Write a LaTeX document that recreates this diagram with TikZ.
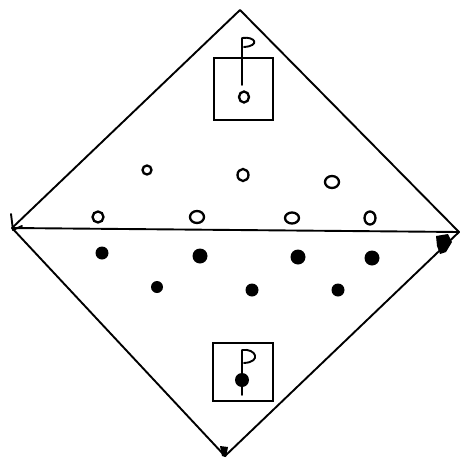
\documentclass[tikz,border=0pt]{standalone}
\begin{document}
\begin{tikzpicture}[x=1pt,y=-1pt,
  edge/.style={line width=1.9pt,line cap=round,line join=round},
  box/.style={draw,line width=2.1pt},
  hole/.style={draw,line width=2.3pt,fill=white},
  dot/.style={fill=black}]
\useasboundingbox (0,0) rectangle (467,461);
% vertices
\coordinate (T) at (240,10);
\coordinate (L) at (12,228);
\coordinate (R) at (459,232);
\coordinate (B) at (225,456);
\draw[edge] (L) -- (T) -- (R) -- (B) -- cycle;
\draw[edge] (L) -- (R);
% vertex marks
\draw[edge] (11,214) -- (13,230) -- (22,226);
\fill (436,236) -- (448,234) -- (452,242) -- (446,252) -- (440,254) -- (437,246) -- cycle;
\fill (220,446) -- (228,447) -- (226,457) -- (222,456) -- cycle;
% top box with flag and open ball
\draw[box] (214,58) rectangle (273,120);
\draw[edge] (242,85) -- (242,38) .. controls (256,36) and (260,46) .. (244,47);
\draw[hole] (244,97) ellipse (5 and 5.5);
% bottom box with flag and filled ball
\draw[box] (213,343) rectangle (273,401);
\draw[edge] (242,395) -- (242,350) .. controls (256,348) and (262,362) .. (244,363);
\fill (242,380) circle (7);
% open circles (upper half)
\draw[hole] (147,170) circle (4.5);
\draw[hole] (243,175) ellipse (5.5 and 6);
\draw[hole] (332,182) ellipse (7 and 6);
\draw[hole] (98,217) circle (5.5);
\draw[hole] (197,217) ellipse (7 and 6);
\draw[hole] (292,218) ellipse (7 and 5.5);
\draw[hole] (370,218) ellipse (5.5 and 6.5);
% filled dots (lower half)
\fill (102,253) circle (6.5);
\fill (200,256) circle (7.5);
\fill (298,257) circle (7.5);
\fill (372,258) circle (7.5);
\fill (157,287) circle (6);
\fill (252,290) circle (6.5);
\fill (338,290) circle (6.5);
\end{tikzpicture}
\end{document}
